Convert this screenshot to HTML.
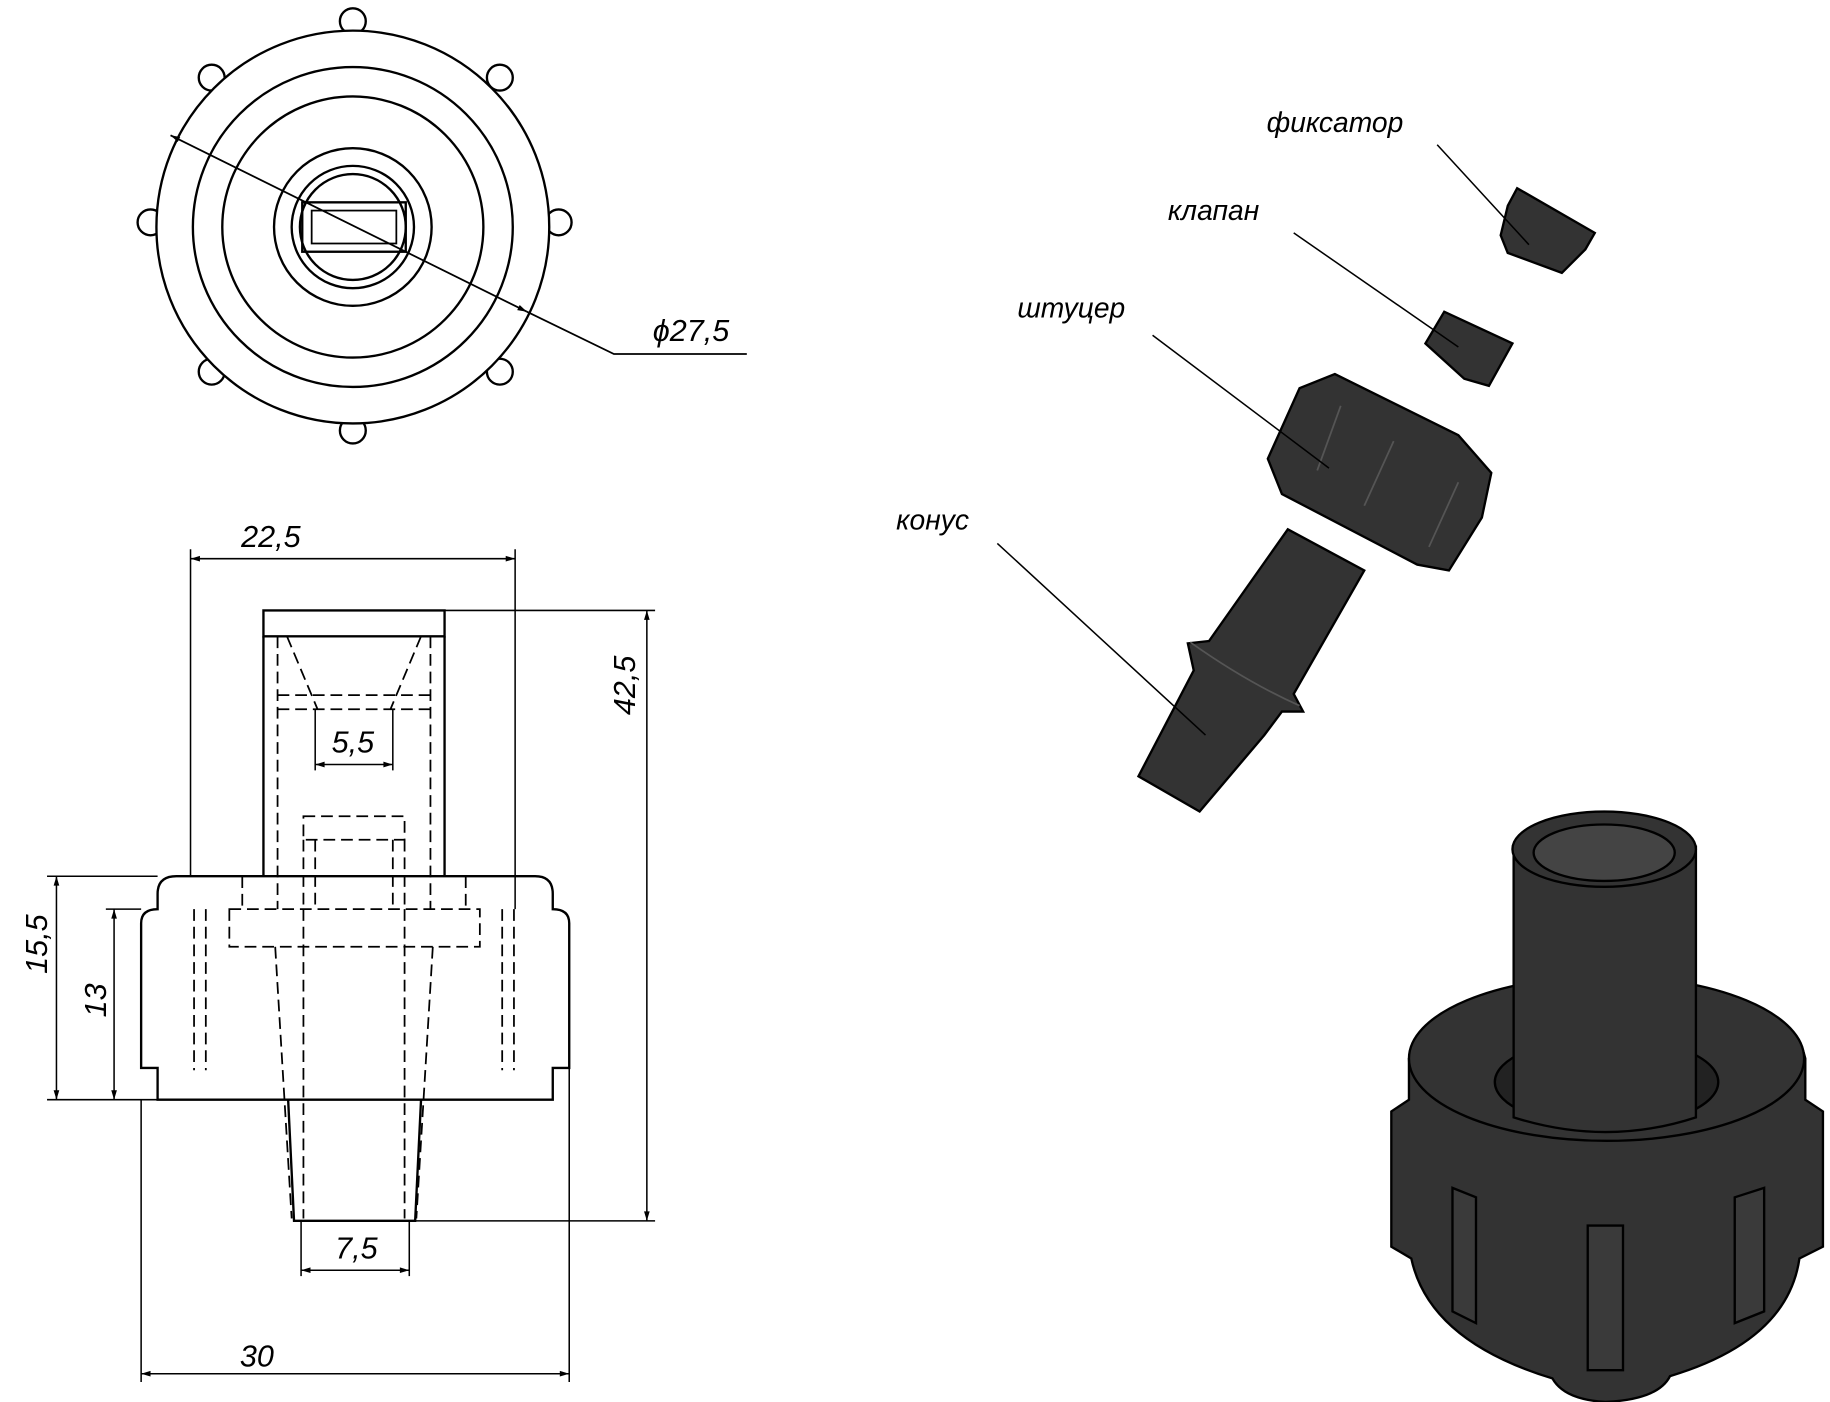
<!DOCTYPE html>
<html><head><meta charset="utf-8"><style>
html,body{margin:0;padding:0;background:#fff;}
svg{display:block}
text{font-family:"Liberation Sans","DejaVu Sans",sans-serif;font-style:italic;fill:#000}
</style></head><body>
<svg width="1830" height="1402" viewBox="0 0 1556 1192" xmlns="http://www.w3.org/2000/svg">
<defs>
<marker id="a" viewBox="0 0 10 10" refX="10" refY="5" markerWidth="14" markerHeight="8" orient="auto-start-reverse" markerUnits="userSpaceOnUse"><path d="M0,2 L10,5 L0,8z" fill="#000"/></marker>
</defs>
<g fill="none" stroke="#000" stroke-width="2">
<!-- top view bumps -->
<g fill="#fff">
<circle cx="300" cy="18" r="11"/><circle cx="300" cy="366" r="11"/>
<circle cx="180" cy="66" r="11"/><circle cx="425" cy="66" r="11"/>
<circle cx="128" cy="189" r="11"/><circle cx="475" cy="189" r="11"/>
<circle cx="180" cy="316" r="11"/><circle cx="425" cy="316" r="11"/>
<circle cx="300" cy="193" r="167"/>
</g>
<circle cx="300" cy="193" r="136"/>
<circle cx="300" cy="193" r="111"/>
<circle cx="300" cy="193" r="67"/>
<circle cx="300" cy="193" r="52"/>
<circle cx="300" cy="193" r="45"/>
<rect x="257" y="172" width="88" height="42"/>
<rect x="265" y="179" width="72" height="28" stroke-width="1.5"/>
<line x1="145" y1="115" x2="448" y2="265" marker-start="url(#a)" marker-end="url(#a)" stroke-width="1.5"/>
<polyline points="448,265 522,301 635,301" stroke-width="1.5"/>
</g>
<text x="555" y="290" font-size="26">ϕ27,5</text>

<!-- side view -->
<g fill="none" stroke="#000" stroke-width="2">
<rect x="224" y="519" width="154" height="22"/>
<line x1="224" y1="541" x2="224" y2="745"/><line x1="378" y1="541" x2="378" y2="745"/>
<path d="M134,935 L134,908 L120,908 L120,785 Q120,773 134,773 L134,760 Q134,745 150,745 L455,745 Q470,745 470,760 L470,773 Q484,773 484,785 L484,908 L470,908 L470,935 Z"/>
<path d="M245,935 L250,1038 L353,1038 L358,935"/>
</g>
<g fill="none" stroke="#000" stroke-width="1.5" stroke-dasharray="10,5">
<line x1="236" y1="541" x2="236" y2="773"/><line x1="366" y1="541" x2="366" y2="773"/>
<line x1="244" y1="541" x2="270" y2="603"/><line x1="358" y1="541" x2="332" y2="603"/>
<line x1="236" y1="591" x2="366" y2="591"/><line x1="236" y1="603" x2="366" y2="603"/>
<rect x="258" y="694" width="86" height="20"/>
<line x1="258" y1="714" x2="258" y2="773"/><line x1="344" y1="714" x2="344" y2="773"/>
<line x1="268" y1="714" x2="268" y2="773"/><line x1="334" y1="714" x2="334" y2="773"/>
<path d="M195,773 L408,773 L408,805 L195,805 Z"/>
<line x1="165" y1="773" x2="165" y2="910"/><line x1="175" y1="773" x2="175" y2="910"/>
<line x1="437" y1="773" x2="437" y2="910"/><line x1="427" y1="773" x2="427" y2="910"/>
<line x1="234" y1="805" x2="248" y2="1036"/><line x1="368" y1="805" x2="354" y2="1036"/>
<line x1="258" y1="773" x2="258" y2="1036"/><line x1="344" y1="773" x2="344" y2="1036"/>
<line x1="206" y1="745" x2="206" y2="773"/><line x1="396" y1="745" x2="396" y2="773"/>
</g>
<g fill="none" stroke="#000" stroke-width="1.3">
<line x1="162" y1="467" x2="162" y2="745"/><line x1="438" y1="467" x2="438" y2="773"/>
<line x1="162" y1="475" x2="438" y2="475" marker-start="url(#a)" marker-end="url(#a)"/>
<line x1="378" y1="519" x2="557" y2="519"/><line x1="353" y1="1038" x2="557" y2="1038"/>
<line x1="550" y1="519" x2="550" y2="1038" marker-start="url(#a)" marker-end="url(#a)"/>
<line x1="268" y1="603" x2="268" y2="655"/><line x1="334" y1="603" x2="334" y2="655"/>
<line x1="268" y1="650" x2="334" y2="650" marker-start="url(#a)" marker-end="url(#a)"/>
<line x1="40" y1="745" x2="134" y2="745"/><line x1="40" y1="935" x2="134" y2="935"/>
<line x1="48" y1="745" x2="48" y2="935" marker-start="url(#a)" marker-end="url(#a)"/>
<line x1="90" y1="773" x2="120" y2="773"/>
<line x1="97" y1="773" x2="97" y2="935" marker-start="url(#a)" marker-end="url(#a)"/>
<line x1="256" y1="1038" x2="256" y2="1085"/><line x1="348" y1="1038" x2="348" y2="1085"/>
<line x1="256" y1="1080" x2="348" y2="1080" marker-start="url(#a)" marker-end="url(#a)"/>
<line x1="120" y1="935" x2="120" y2="1175"/><line x1="484" y1="908" x2="484" y2="1175"/>
<line x1="120" y1="1168" x2="484" y2="1168" marker-start="url(#a)" marker-end="url(#a)"/>
</g>
<text x="205" y="465" font-size="26">22,5</text>
<text x="282" y="640" font-size="26">5,5</text>
<text x="285" y="1070" font-size="26">7,5</text>
<text x="204" y="1162" font-size="26">30</text>
<text transform="translate(540,608) rotate(-90)" font-size="26">42,5</text>
<text transform="translate(40,828) rotate(-90)" font-size="26">15,5</text>
<text transform="translate(90,865) rotate(-90)" font-size="26">13</text>

<!-- exploded view -->
<g stroke="#000" stroke-width="2" fill="#333">
<path d="M1282,175 L1290,160 L1356,198 L1348,212 L1328,232 L1282,215 L1276,200 Z"/>
<path d="M1212,292 L1228,265 L1286,292 L1266,328 L1245,322 Z"/>
<path d="M1078,390 L1105,330 L1135,318 L1240,370 L1268,402 L1260,440 L1232,485 L1205,480 L1090,420 Z"/>
<path d="M1095,450 L1160,485 L1100,590 L1108,605 L1090,605 L1075,625 L1020,690 L968,660 L1015,570 L1010,547 L1028,545 Z"/>
</g>
<g stroke="#555" stroke-width="1.5" fill="none">
<path d="M1140,345 L1120,400"/><path d="M1185,375 L1160,430"/><path d="M1240,410 L1215,465"/>
<path d="M1012,546 Q1060,580 1105,600"/>
</g>
<g stroke="#000" stroke-width="1.3" fill="none">
<line x1="1222" y1="123" x2="1300" y2="208"/>
<line x1="1100" y1="198" x2="1240" y2="295"/>
<line x1="980" y1="285" x2="1130" y2="398"/>
<line x1="848" y1="462" x2="1025" y2="625"/>
</g>
<text x="1077" y="112" font-size="24">фиксатор</text>
<text x="993" y="187" font-size="24">клапан</text>
<text x="865" y="270" font-size="24">штуцер</text>
<text x="762" y="450" font-size="24">конус</text>

<!-- assembled 3D -->
<g stroke="#000" stroke-width="2" fill="#333">
<path d="M1183,945 L1198,935 L1198,900 Q1210,855 1290,840 L1440,840 Q1525,855 1535,900 L1535,935 L1550,945 L1550,1060 L1530,1070 Q1520,1140 1420,1170 Q1410,1190 1365,1192 Q1330,1190 1320,1172 Q1215,1140 1200,1070 L1183,1060 Z"/>
<ellipse cx="1366" cy="900" rx="168" ry="70"/>
<ellipse cx="1366" cy="920" rx="95" ry="38" fill="#222"/>
<path d="M1287,720 L1287,950 Q1366,975 1442,950 L1442,720 Z"/>
<ellipse cx="1364" cy="722" rx="78" ry="32"/>
<ellipse cx="1364" cy="725" rx="60" ry="24" fill="#444"/>
</g>
<g stroke="#000" stroke-width="2" fill="#3a3a3a">
<path d="M1235,1010 L1255,1018 L1255,1125 L1235,1115 Z"/>
<path d="M1350,1042 L1380,1042 L1380,1165 L1350,1165 Z"/>
<path d="M1475,1018 L1500,1010 L1500,1115 L1475,1125 Z"/>
</g>
</svg>
</body></html>
